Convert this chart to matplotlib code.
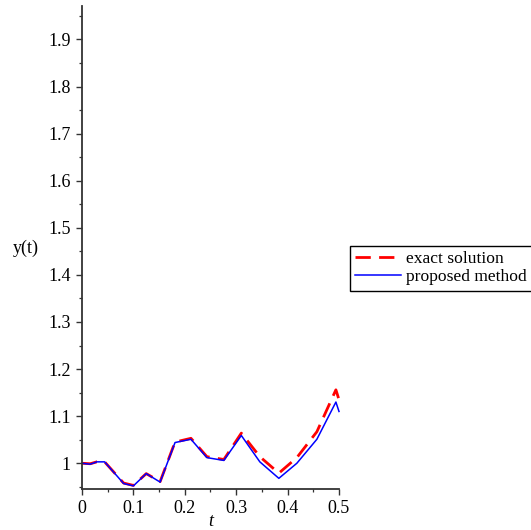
import matplotlib
matplotlib.use("Agg")
import matplotlib.pyplot as plt
from matplotlib.ticker import MultipleLocator, FixedLocator

plt.rcParams['font.family'] = 'Liberation Serif'
plt.rcParams['font.size'] = 13

# sample times and solution values
t = [0, 0.016, 0.029, 0.044, 0.081, 0.100, 0.125, 0.152, 0.181, 0.212,
     0.243, 0.276, 0.310, 0.346, 0.383, 0.418, 0.457, 0.494, 0.500]
y_exact = [1.000, 0.999, 1.003, 1.003, 0.958, 0.953, 0.978, 0.961, 1.045, 1.053,
           1.014, 1.008, 1.064, 1.014, 0.979, 1.012, 1.067, 1.156, 1.135]
y_method = [1.000, 0.998, 1.003, 1.003, 0.957, 0.952, 0.978, 0.960, 1.044, 1.051,
            1.012, 1.006, 1.059, 1.003, 0.968, 1.000, 1.051, 1.130, 1.110]

xticks = [0, 0.1, 0.2, 0.3, 0.4, 0.5]
xticklabels = ["0", "0.1", "0.2", "0.3", "0.4", "0.5"]
yticks = [1.0, 1.1, 1.2, 1.3, 1.4, 1.5, 1.6, 1.7, 1.8, 1.9]
yticklabels = ["1", "1.1", "1.2", "1.3", "1.4", "1.5", "1.6", "1.7", "1.8", "1.9"]

fig = plt.figure(figsize=(5.31, 5.30), dpi=100)
ax = fig.add_axes([0.1544, 0.0774, 0.484, 0.9113])

ax.plot(t, y_exact, color='red', lw=2.0, linestyle=(0, (5.5, 3)),
        label='exact solution', clip_on=False)
ax.plot(t, y_method, color='blue', lw=1.1, label='proposed method', clip_on=False)

ax.set_xlim(0, 0.5)
ax.set_ylim(0.9454, 1.971)

ax.spines['top'].set_visible(False)
ax.spines['right'].set_visible(False)
for s in ['left', 'bottom']:
    ax.spines[s].set_linewidth(1.3)
    ax.spines[s].set_color('#333333')

ax.xaxis.set_major_locator(FixedLocator(xticks))
ax.set_xticklabels(xticklabels)
ax.yaxis.set_major_locator(FixedLocator(yticks))
ax.set_yticklabels(yticklabels)
ax.xaxis.set_minor_locator(MultipleLocator(0.05))
ax.yaxis.set_minor_locator(MultipleLocator(0.05))
ax.tick_params(which='major', length=4.5, width=1.0, color='#333333', direction='out', labelsize=13)
ax.tick_params(which='minor', length=2.5, width=0.9, color='#333333', direction='out')

fig.text(210.5 / 531, 1 - 521 / 530, 't', style='italic', ha='center', va='center', fontsize=13)
fig.text(26 / 531, 1 - 248 / 530, 'y(t)', ha='center', va='center', fontsize=13)

leg = fig.legend(loc='upper left', bbox_to_anchor=(0.659, 0.536), fancybox=False,
                 framealpha=1, edgecolor='black', handlelength=2.6, handletextpad=0.3,
                 borderpad=0.3, labelspacing=0.1, borderaxespad=0, fontsize=12.6)
leg.get_frame().set_linewidth(1.0)

fig.savefig('out.png', dpi=100)
